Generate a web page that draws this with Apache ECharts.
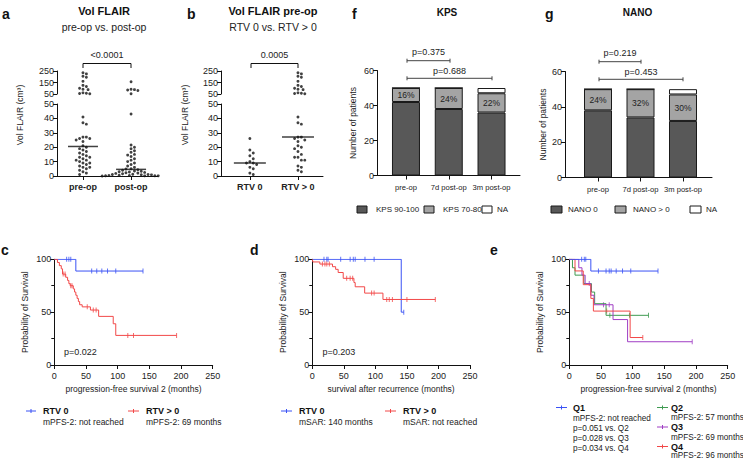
<!DOCTYPE html>
<html><head><meta charset="utf-8">
<script src="https://cdn.jsdelivr.net/npm/echarts@6/dist/echarts.min.js"></script>
<style>html,body{margin:0;padding:0;background:#fff}#c{width:743px;height:460px}</style>
</head><body><div id="c"></div>
<script>
// ---------------- DATA ----------------
const volCats = ['pre-op', 'post-op'];
const preOp = [235, 225, 205, 195, 160, 125, 115, 100, 92, 88, 60, 56, 54, 52,
  41, 37, 36, 27, 27, 26, 26, 25, 24, 21, 20, 19, 18, 17, 16, 15, 14, 13, 13, 12, 11, 11, 10, 9, 9, 8, 7, 6, 6, 5, 4, 3, 2, 1];
const postOp = [157, 92, 88, 84, 80, 52, 43,
  21.5, 20, 19, 17.5, 16.5, 15, 14.5, 13.5, 12, 11, 10, 9, 8, 7, 6, 5,
  4.8, 4.4, 4, 3.5, 3.3, 3, 2.8, 2.5, 2.2, 2, 1.8, 1.5, 1.2, 1.1, 1, 0.9, 0.8, 0.5, 0.3, 0.3, 0.2, 0.2, 0.1, 0.1, 0];
const rtvCats = ['RTV 0', 'RTV > 0'];
const rtv0 = [26, 18, 16, 14, 12, 10, 9, 9, 8, 6, 5, 2, 1];
const rtvPos = [235, 225, 205, 195, 160, 125, 115, 100, 92, 88, 60, 56, 54, 52,
  41, 37, 36, 27, 27, 26, 25, 24, 21, 20, 19, 17, 15, 13, 13, 11, 11, 7, 6, 4, 3];
const volTopTicks = [50, 150, 250];

const barCats = ['pre-op', '7d post-op', '3m post-op'];
const kpsHigh = [42, 38, 36];
const kpsLow = [8, 12, 11];
const kpsNA = [0, 0, 3];
const nano0 = [38, 34, 32];
const nanoPos = [12, 16, 15];
const nanoNA = [0, 0, 3];

// Kaplan-Meier step data (months, % surviving) and censored times
const cR0Time = [0, 34, 140];
const cR0Surv = [100, 88.9, 88.9];
const cR0Cens = [19.5, 23, 26, 59, 67, 75, 84, 97, 140];
const cRpTime = [0, 5, 8, 11, 13, 18, 21, 23, 25, 30, 32, 34, 36, 38, 40, 44, 57, 70, 93, 97, 193];
const cRpSurv = [100, 97, 94, 91, 86, 83, 80, 77, 75, 72, 69, 66, 63, 60, 57, 55, 52, 46, 39, 28, 28];
const cRpCens = [14, 17, 26, 28, 52, 61.5, 66, 116, 125, 193];

const dR0Time = [0, 141, 145];
const dR0Surv = [100, 50, 50];
const dR0Cens = [18.5, 23, 25, 45, 60, 65, 68, 83.5, 98, 145];
const dRpTime = [0, 1, 12, 32, 37, 41, 49, 66, 68, 83, 112, 195];
const dRpSurv = [100, 97.5, 95.5, 93, 90.5, 87.5, 82, 78, 74, 68, 62, 62];
const dRpCens = [16, 20, 23, 27, 54.5, 60, 64, 94, 98, 118, 122, 127, 150, 195];

const eQ1Time = [0, 34, 140];
const eQ1Surv = [100, 88.9, 88.9];
const eQ1Cens = [19.5, 23.7, 26, 46, 58, 63, 66, 74, 84, 97, 140];
const eQ2Time = [0, 5, 9, 23, 35, 40, 58, 125];
const eQ2Surv = [100, 92, 85, 77, 69, 58, 47, 47];
const eQ2Cens = [64, 95, 125];
const eQ3Time = [0, 15, 20, 25, 34, 39, 69, 92, 194];
const eQ3Surv = [100, 92, 85, 77, 66, 57, 43, 22, 22];
const eQ3Cens = [31.5, 54, 63, 194];
const eQ4Time = [0, 9, 22, 34, 38, 96, 116];
const eQ4Surv = [100, 89, 76, 63, 51, 26, 26];
const eQ4Cens = [59, 116];

// ---------------- STYLE ----------------
const FONT = "'Liberation Sans', Arial, Helvetica, sans-serif";
const TXT = '#222';
const INK = '#111';
const DARK = '#585858', LIGHT = '#a4a4a4', NAFILL = '#ffffff';
const BLUE = '#3a52f5', RED = '#f24848', GREEN = '#3f9b51', PURPLE = '#a03ec4';

function median(arr) { const s = arr.slice().sort((a, b) => a - b); const n = s.length; return n % 2 ? s[(n - 1) / 2] : (s[n / 2 - 1] + s[n / 2]) / 2; }
function survAt(times, survs, t) { let s = survs[0]; for (let i = 0; i < times.length; i++) { if (times[i] <= t) s = survs[i]; } return s; }

function axis(gi, o) {
  const a = {
    gridIndex: gi, type: o.type || 'value', splitLine: { show: false },
    axisLine: Object.assign({ show: true, onZero: false, lineStyle: { color: INK, width: 1 } }, o.line || {}),
    axisTick: Object.assign({ show: true, length: 4, lineStyle: { color: INK, width: 1 } }, o.tick || {}),
    axisLabel: Object.assign({ color: TXT, fontSize: 9, fontFamily: FONT, margin: 3 }, o.label || {}),
    nameTextStyle: { color: TXT, fontSize: 8.5, fontFamily: FONT }
  };
  ['min', 'max', 'interval', 'name', 'nameLocation', 'nameGap', 'minorTick', 'show', 'data'].forEach(k => { if (o[k] !== undefined) a[k] = o[k]; });
  return a;
}
const kmMinor = { show: true, splitNumber: 2, length: 3, lineStyle: { color: INK, width: 1 } };

const grids = [
  { left: 57, top: 71, width: 101, height: 23 },          // 0 a top
  { left: 57, top: 104, width: 101, height: 72 },         // 1 a bottom
  { left: 221, top: 71, width: 102, height: 23 },         // 2 b top
  { left: 221, top: 104, width: 102, height: 72 },        // 3 b bottom
  { left: 377, top: 70.5, width: 143, height: 105 },      // 4 f frame
  { left: 565, top: 71.5, width: 147, height: 106 },      // 5 g frame
  { left: 54.3, top: 259.3, width: 158.4, height: 105.7 },  // 6 c
  { left: 312.3, top: 259.3, width: 157.7, height: 105.7 }, // 7 d
  { left: 569.3, top: 259.3, width: 158.4, height: 105.7 }, // 8 e
  { left: 384.6, top: 70.5, width: 128.3, height: 105 },  // 9 f bars
  { left: 576.75, top: 71.5, width: 127.5, height: 106 }  // 10 g bars
].map(g => Object.assign({ containLabel: false, outerBoundsMode: 'none' }, g));

const noLbl = { show: false };
const catLbl = { fontSize: 7.6, margin: 8, interval: 0, hideOverlap: false };
const xAxes = [
  axis(0, { min: -0.54, max: 1.56, show: false }),
  axis(1, { min: -0.54, max: 1.56, tick: { customValues: [0, 1] }, label: { customValues: [0, 1], formatter: v => volCats[Math.round(v)] || '', fontWeight: 'bold', margin: 6 } }),
  axis(2, { min: -0.6, max: 1.52, show: false }),
  axis(3, { min: -0.6, max: 1.52, tick: { customValues: [0, 1] }, label: { customValues: [0, 1], formatter: v => rtvCats[Math.round(v)] || '', fontWeight: 'bold', margin: 6 } }),
  axis(4, { min: 0, max: 1, tick: { show: false }, label: noLbl }),
  axis(5, { min: 0, max: 1, tick: { show: false }, label: noLbl }),
  axis(6, { min: 0, max: 250, interval: 50, name: 'progression-free survival 2 (months)', nameLocation: 'middle', nameGap: 19, label: { margin: 6 } }),
  axis(7, { min: 0, max: 250, interval: 50, name: 'survival after recurrence (months)', nameLocation: 'middle', nameGap: 19, label: { margin: 6 } }),
  axis(8, { min: 0, max: 250, interval: 50, name: 'progression-free survival 2 (months)', nameLocation: 'middle', nameGap: 19, label: { margin: 6 } }),
  axis(9, { type: 'category', data: barCats, line: { show: false }, tick: { alignWithLabel: true, interval: 0 }, label: catLbl }),
  axis(10, { type: 'category', data: barCats, line: { show: false }, tick: { alignWithLabel: true, interval: 0 }, label: catLbl })
];
const yAxes = [
  axis(0, { min: 50, max: 250, tick: { customValues: volTopTicks }, label: { customValues: volTopTicks } }),
  axis(1, { min: 0, max: 50, interval: 10 }),
  axis(2, { min: 50, max: 250, tick: { customValues: volTopTicks }, label: { customValues: volTopTicks } }),
  axis(3, { min: 0, max: 50, interval: 10 }),
  axis(4, { min: 0, max: 60, interval: 20, name: 'Number of patients', nameLocation: 'middle', nameGap: 20 }),
  axis(5, { min: 0, max: 60, interval: 20, name: 'Number of patients', nameLocation: 'middle', nameGap: 18 }),
  axis(6, { min: 0, max: 100, interval: 50, name: 'Probability of Survival', nameLocation: 'middle', nameGap: 25, minorTick: kmMinor }),
  axis(7, { min: 0, max: 100, interval: 50, name: 'Probability of Survival', nameLocation: 'middle', nameGap: 25, minorTick: kmMinor }),
  axis(8, { min: 0, max: 100, interval: 50, name: 'Probability of Survival', nameLocation: 'middle', nameGap: 25, minorTick: kmMinor }),
  axis(9, { min: 0, max: 60, interval: 20, show: false }),
  axis(10, { min: 0, max: 60, interval: 20, show: false })
];

// ---------------- SERIES ----------------
const series = [];
const dotDefs = [
  { id: 'aPreTop', xi: 0, col: 0, grp: 'aPre', vals: preOp.filter(v => v > 50) },
  { id: 'aPreBot', xi: 1, col: 0, grp: 'aPre', vals: preOp.filter(v => v <= 50) },
  { id: 'aPostTop', xi: 0, col: 1, grp: 'aPost', vals: postOp.filter(v => v > 50) },
  { id: 'aPostBot', xi: 1, col: 1, grp: 'aPost', vals: postOp.filter(v => v <= 50) },
  { id: 'bR0Top', xi: 2, col: 0, grp: 'bR0', vals: rtv0.filter(v => v > 50) },
  { id: 'bR0Bot', xi: 3, col: 0, grp: 'bR0', vals: rtv0.filter(v => v <= 50) },
  { id: 'bRpTop', xi: 2, col: 1, grp: 'bRp', vals: rtvPos.filter(v => v > 50) },
  { id: 'bRpBot', xi: 3, col: 1, grp: 'bRp', vals: rtvPos.filter(v => v <= 50) }
];
dotDefs.forEach(d => series.push({
  id: d.id, type: 'scatter', xAxisIndex: d.xi, yAxisIndex: d.xi, symbol: 'circle', symbolSize: 2.9,
  itemStyle: { color: INK }, silent: true, z: 3, clip: false,
  data: d.vals.map(v => ({ value: [d.col, v] }))
}));
series.push({ type: 'scatter', xAxisIndex: 1, yAxisIndex: 1, symbol: 'rect', symbolSize: [30, 1.5], itemStyle: { color: INK }, z: 4, silent: true,
  data: [[0, median(preOp)], [1, median(postOp)]] });
series.push({ type: 'scatter', xAxisIndex: 3, yAxisIndex: 3, symbol: 'rect', symbolSize: [32, 1.5], itemStyle: { color: INK }, z: 4, silent: true,
  data: [[0, median(rtv0)], [1, median(rtvPos)]] });

function barSeries(name, xi, vals, color, totals) {
  return {
    name, type: 'bar', xAxisIndex: xi, yAxisIndex: xi, stack: 'st' + xi, barWidth: 28, silent: true,
    itemStyle: { color, borderColor: '#1a1a1a', borderWidth: 1 },
    data: vals.slice(),
    label: totals ? { show: true, position: 'inside', color: TXT, fontSize: 8.5, fontFamily: FONT,
      formatter: p => Math.round(p.value / totals[p.dataIndex] * 100) + '%' } : { show: false }
  };
}
const kpsTot = kpsHigh.map((v, i) => v + kpsLow[i] + kpsNA[i]);
const nanoTot = nano0.map((v, i) => v + nanoPos[i] + nanoNA[i]);
series.push(barSeries('KPS 90-100', 9, kpsHigh, DARK));
series.push(barSeries('KPS 70-80', 9, kpsLow, LIGHT, kpsTot));
series.push(barSeries('NA', 9, kpsNA, NAFILL));
series.push(barSeries('NANO 0', 10, nano0, DARK));
series.push(barSeries('NANO > 0', 10, nanoPos, LIGHT, nanoTot));
series.push(barSeries('NA ', 10, nanoNA, NAFILL));

function km(xi, times, survs, cens, color) {
  series.push({ type: 'line', xAxisIndex: xi, yAxisIndex: xi, step: 'end', symbol: 'none', showSymbol: false, silent: true,
    lineStyle: { color, width: 1 }, data: times.map((t, i) => [t, survs[i]]) });
  series.push({ type: 'scatter', xAxisIndex: xi, yAxisIndex: xi, symbol: 'rect', symbolSize: [1, 5], silent: true,
    itemStyle: { color }, data: cens.map(t => [t, survAt(times, survs, t)]) });
}
km(6, cR0Time, cR0Surv, cR0Cens, BLUE);
km(6, cRpTime, cRpSurv, cRpCens, RED);
km(7, dR0Time, dR0Surv, dR0Cens, BLUE);
km(7, dRpTime, dRpSurv, dRpCens, RED);
km(8, eQ2Time, eQ2Surv, eQ2Cens, GREEN);
km(8, eQ3Time, eQ3Surv, eQ3Cens, PURPLE);
km(8, eQ4Time, eQ4Surv, eQ4Cens, RED);
km(8, eQ1Time, eQ1Surv, eQ1Cens, BLUE);

// ---------------- ANNOTATIONS ----------------
const G = [];
function T(x, y, text, o) {
  o = o || {};
  G.push({ type: 'text', x, y, rotation: o.rot || 0, silent: true, style: {
    text, fill: o.color || TXT, fontSize: o.size || 9, fontFamily: FONT, fontWeight: o.bold ? 'bold' : 'normal',
    textAlign: o.align || 'left', textVerticalAlign: 'middle' } });
}
function L(x1, y1, x2, y2, color, w) {
  G.push({ type: 'line', silent: true, shape: { x1, y1, x2, y2 }, style: { stroke: color || INK, lineWidth: w || 1 } });
}
function R(x, y, w, h, fill) {
  G.push({ type: 'rect', silent: true, shape: { x, y, width: w, height: h }, style: { fill, stroke: '#1a1a1a', lineWidth: 1 } });
}
// panel letters
[['a', 2, 13.5], ['b', 187, 13.5], ['f', 352, 13.5], ['g', 545, 13.5], ['c', 1, 249.5], ['d', 250, 249.5], ['e', 490, 249.5]]
  .forEach(p => T(p[1], p[2], p[0], { bold: true, size: 14, color: '#111' }));
// titles
T(104, 10.5, 'Vol FLAIR', { bold: true, size: 11, align: 'center', color: '#111' });
T(104, 26.5, 'pre-op vs. post-op', { size: 10.5, align: 'center' });
T(273, 10.5, 'Vol FLAIR pre-op', { bold: true, size: 11, align: 'center', color: '#111' });
T(273, 26.5, 'RTV 0 vs. RTV > 0', { size: 10.5, align: 'center' });
T(447, 12, 'KPS', { bold: true, size: 10, align: 'center', color: '#111' });
T(637.5, 12, 'NANO', { bold: true, size: 10, align: 'center', color: '#111' });
// broken-axis y titles
T(20, 115, 'Vol FLAIR (cm³)', { size: 8.5, align: 'center', rot: Math.PI / 2 });
T(185, 115, 'Vol FLAIR (cm³)', { size: 8.5, align: 'center', rot: Math.PI / 2 });
// significance brackets (a, b)
function bracket(x1, x2, y, label) { L(x1, y, x2, y); L(x1, y, x1, y + 4.5); L(x2, y, x2, y + 4.5); T((x1 + x2) / 2, y - 8.5, label, { size: 9, align: 'center' }); }
bracket(83, 131, 63.5, '<0.0001');
bracket(251, 298, 63.5, '0.0005');
// p brackets (f, g)
function pbar(x1, x2, y, label, ty) { L(x1, y, x2, y, '#444'); L(x1, y - 2, x1, y + 2, '#444'); L(x2, y - 2, x2, y + 2, '#444'); T((x1 + x2) / 2, ty, label, { size: 9, align: 'center' }); }
pbar(407, 450, 60.7, 'p=0.375', 52);
pbar(407, 492, 78.3, 'p=0.688', 71);
pbar(599, 641, 61.7, 'p=0.219', 53.3);
pbar(599, 683, 79.3, 'p=0.453', 71.7);
// bar legends
R(357, 206, 10, 7, DARK); T(376, 209.5, 'KPS 90-100', { size: 8 });
R(424, 206, 10, 7, LIGHT); T(443, 209.5, 'KPS 70-80', { size: 8 });
R(482, 206, 10, 7, NAFILL); T(497, 209.5, 'NA', { size: 8 });
R(551, 206, 11, 7, DARK); T(568, 209.5, 'NANO 0', { size: 8 });
R(615, 206, 11, 7, LIGHT); T(633, 209.5, 'NANO > 0', { size: 8 });
R(690, 206, 11, 7, NAFILL); T(706, 209.5, 'NA', { size: 8 });
// KM p-values
T(64, 352, 'p=0.022', { size: 9 });
T(322.5, 352, 'p=0.203', { size: 9 });
// KM legends
function kmSym(x1, x2, y, color) { L(x1, y, x2, y, color, 1); L((x1 + x2) / 2, y - 2, (x1 + x2) / 2, y + 2, color, 1); }
kmSym(26, 36, 411, BLUE); T(43, 411, 'RTV 0', { bold: true, size: 9, color: '#111' }); T(43, 422, 'mPFS-2: not reached', { size: 8.5 });
kmSym(128, 139, 411, RED); T(146, 411, 'RTV > 0', { bold: true, size: 9, color: '#111' }); T(146, 422, 'mPFS-2: 69 months', { size: 8.5 });
kmSym(281, 292, 411, BLUE); T(299, 411, 'RTV 0', { bold: true, size: 9, color: '#111' }); T(299, 422, 'mSAR: 140 months', { size: 8.5 });
kmSym(385, 396, 411, RED); T(403, 411, 'RTV > 0', { bold: true, size: 9, color: '#111' }); T(403, 422, 'mSAR: not reached', { size: 8.5 });
kmSym(556, 567, 407.5, BLUE); T(573, 407.5, 'Q1', { bold: true, size: 9, color: '#111' });
T(573, 418, 'mPFS-2: not reached', { size: 8.2 });
T(573, 428.3, 'p=0.051 vs. Q2', { size: 8.2 });
T(573, 438.6, 'p=0.028 vs. Q3', { size: 8.2 });
T(573, 448.9, 'p=0.034 vs. Q4', { size: 8.2 });
kmSym(657, 668, 407.5, GREEN); T(671, 407.5, 'Q2', { bold: true, size: 9, color: '#111' }); T(671, 417.8, 'mPFS-2: 57 months', { size: 8.2 });
kmSym(657, 668, 427, PURPLE); T(671, 427, 'Q3', { bold: true, size: 9, color: '#111' }); T(671, 437.2, 'mPFS-2: 69 months', { size: 8.2 });
kmSym(657, 668, 446.5, RED); T(671, 446.5, 'Q4', { bold: true, size: 9, color: '#111' }); T(671, 455.6, 'mPFS-2: 96 months', { size: 8.2 });

const option = {
  animation: false, backgroundColor: '#fff',
  textStyle: { fontFamily: FONT },
  grid: grids, xAxis: xAxes, yAxis: yAxes, series, graphic: G
};

const chart = echarts.init(document.getElementById('c'), null, { renderer: 'svg', width: 743, height: 460 });
chart.setOption(option);

// ---------------- dot placement (GraphPad-like scatter spread) ----------------
function swarm(pts, d) {
  const order = pts.slice().sort((a, b) => a.y - b.y);
  const placed = [];
  order.forEach(p => {
    for (let k = 0; k < 80; k++) {
      const m = Math.ceil(k / 2) * (k % 2 ? 1 : -1);
      const dx = m * d / 2;
      let ok = true;
      for (const q of placed) {
        const ddx = q.dx - dx, ddy = q.y - p.y;
        if (ddx * ddx + ddy * ddy < d * d) { ok = false; break; }
      }
      if (ok) { p.dx = dx; placed.push(p); break; }
    }
  });
}
const groups = {};
dotDefs.forEach(d => {
  d.pts = d.vals.map(v => ({ v, y: chart.convertToPixel({ gridIndex: d.xi }, [d.col, v])[1], dx: 0 }));
  (groups[d.grp] = groups[d.grp] || []).push(...d.pts);
});
Object.keys(groups).forEach(k => swarm(groups[k], 3.4));
chart.setOption({ series: dotDefs.map(d => ({ id: d.id, data: d.pts.map(p => ({ value: [d.col, p.v], symbolOffset: [p.dx, 0] })) })) });
</script>
</body></html>
